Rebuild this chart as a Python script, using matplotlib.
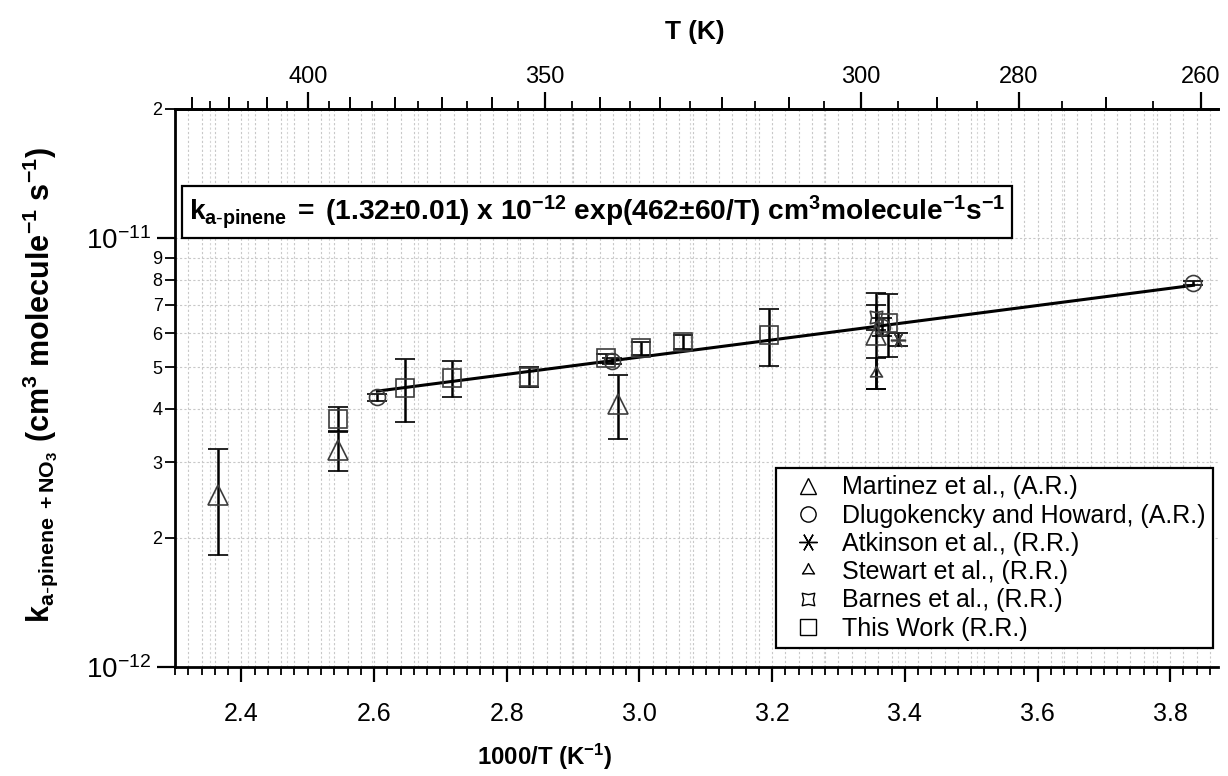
import numpy as np
import matplotlib
matplotlib.use("Agg")
import matplotlib.pyplot as plt
from matplotlib.path import Path
from matplotlib.lines import Line2D
from matplotlib import font_manager

# ---------------- data (k in units of 1e-12 cm3 molecule-1 s-1) ----------------
martinez_x = [2.365, 2.545, 2.967, 3.356]
martinez_k = [2.52, 3.20, 4.10, 5.95]
martinez_err = [0.70, 0.33, 0.70, 1.50]

dlugo_x = [2.605, 2.959, 3.365, 3.835]
dlugo_k = [4.26, 5.17, 6.20, 7.85]
dlugo_err = [0.08, 0.08, 0.30, 0.08]

atkinson_x = [3.390]
atkinson_k = [5.80]
atkinson_err = [0.20]

stewart_x = [3.356]
stewart_k = [4.85]
stewart_err = [0.40]

barnes_x = [3.356]
barnes_k = [6.55]
barnes_err = [0.45]

thiswork_x = [2.546, 2.647, 2.718, 2.833, 2.950, 3.003, 3.066, 3.195, 3.375]
thiswork_k = [3.79, 4.47, 4.72, 4.75, 5.24, 5.54, 5.72, 5.94, 6.34]
thiswork_err = [0.24, 0.75, 0.45, 0.25, 0.12, 0.20, 0.22, 0.90, 1.05]

fit_A = 1.32      # x 1e-12
fit_B = 462.0     # K
fit_x_range = [2.605, 3.835]

legend_labels = ["Martinez et al., (A.R.)", "Dlugokencky and Howard, (A.R.)",
                 "Atkinson et al., (R.R.)", "Stewart et al., (R.R.)",
                 "Barnes et al., (R.R.)", "This Work (R.R.)"]

x_major = [2.4, 2.6, 2.8, 3.0, 3.2, 3.4, 3.6, 3.8]
top_major_T = [400, 350, 300, 280, 260]
y_major = [1e-12, 1e-11]
y_major_labels = [r"$10^{-12}$", r"$10^{-11}$"]
y_minor = [2e-12, 3e-12, 4e-12, 5e-12, 6e-12, 7e-12, 8e-12, 9e-12, 2e-11]
y_minor_labels = ["2", "3", "4", "5", "6", "7", "8", "9", "2"]

# ---------------- fonts ----------------
names = {f.name for f in font_manager.fontManager.ttflist}
base = "Liberation Sans" if "Liberation Sans" in names else "DejaVu Sans"
narrow = "Liberation Sans Narrow" if "Liberation Sans Narrow" in names else base
plt.rcParams["font.family"] = [base, "DejaVu Sans"]
plt.rcParams["mathtext.fontset"] = "custom"
plt.rcParams["mathtext.rm"] = base
plt.rcParams["mathtext.it"] = base + ":italic"
plt.rcParams["mathtext.bf"] = base + ":bold"

fig = plt.figure(figsize=(12.28, 7.76), dpi=100)
ax = fig.add_axes([175/1228, 1-667/776, (1218-175)/1228, (667-109)/776])
ax.set_yscale("log")
ax.set_xlim(2.30, 3.872)
ax.set_ylim(1e-12, 2e-11)

# grid
xmin, xmax = ax.get_xlim()
ax.set_xticks(x_major)
ax.set_xticks(np.arange(2.30, 3.875, 0.02), minor=True)
gstyle = dict(color="#c8c8c8", lw=0.8, ls=(0, (2, 2)), zorder=0)
ax.grid(True, which="both", axis="x", **gstyle)
ax.grid(True, which="both", axis="y", **gstyle)
for T in range(255, 440, 10):
    xv = 1000.0 / T
    if xmin < xv < xmax:
        ax.axvline(xv, color="#d6d6d6", lw=0.8, ls=(0, (2, 2)), zorder=0)

# fit line
xf = np.linspace(fit_x_range[0], fit_x_range[1], 100)
ax.plot(xf, fit_A * 1e-12 * np.exp(fit_B * xf / 1000.0), color="black", lw=2.2, zorder=3)

def star_path(n, inner):
    verts = []
    for i in range(2 * n):
        ang = np.pi / 2 + i * np.pi / n
        r = 1.0 if i % 2 == 0 else inner
        verts.append((r * np.cos(ang), r * np.sin(ang)))
    verts.append(verts[0])
    codes = [Path.MOVETO] + [Path.LINETO] * (2 * n - 1) + [Path.CLOSEPOLY]
    return Path(verts, codes)

def barnes_path():
    verts = []
    for i in range(8):
        ang = np.pi / 4 + i * np.pi / 4
        r = 1.0 if i % 2 == 0 else 0.55
        verts.append((r * np.cos(ang), r * np.sin(ang)))
    verts.append(verts[0])
    codes = [Path.MOVETO] + [Path.LINETO] * 7 + [Path.CLOSEPOLY]
    return Path(verts, codes)

stewart_marker = star_path(3, 0.45)
barnes_marker = barnes_path()

edge = "#3c3c3c"
common = dict(ecolor="black", elinewidth=1.8, capsize=7, capthick=1.8, mfc="none",
              mec=edge, mew=1.2, ls="none", zorder=4)

sc = 1e-12
ax.errorbar(thiswork_x, np.array(thiswork_k) * sc, yerr=np.array(thiswork_err) * sc,
            marker="s", ms=13, **common)
ax.errorbar(martinez_x, np.array(martinez_k) * sc, yerr=np.array(martinez_err) * sc,
            marker="^", ms=15, **common)
ax.errorbar(dlugo_x, np.array(dlugo_k) * sc, yerr=np.array(dlugo_err) * sc,
            marker="o", ms=11.5, **common)
ax.errorbar(atkinson_x, np.array(atkinson_k) * sc, yerr=np.array(atkinson_err) * sc,
            marker=(6, 2, 30), ms=11, **common)
ax.errorbar(stewart_x, np.array(stewart_k) * sc, yerr=np.array(stewart_err) * sc,
            marker=stewart_marker, ms=10, **common)
ax.errorbar(barnes_x, np.array(barnes_k) * sc, yerr=np.array(barnes_err) * sc,
            marker=barnes_marker, ms=9, **common)

# spines & ticks
for s in ["left", "bottom", "top"]:
    ax.spines[s].set_linewidth(2.0)
ax.spines["right"].set_visible(False)

ax.set_xticklabels([f"{v:.1f}" for v in x_major], fontfamily=narrow)
ax.tick_params(axis="x", which="major", direction="out", length=11, width=1.6, pad=14,
               labelsize=18)
ax.tick_params(axis="x", which="minor", direction="out", length=6, width=1.3)
ax.tick_params(axis="x", top=False)

ax.set_yticks(y_major)
ax.set_yticklabels(y_major_labels)
ax.set_yticks(y_minor, minor=True)
ax.set_yticklabels(y_minor_labels, minor=True)
ax.tick_params(axis="y", which="major", direction="out", length=13, width=1.6, pad=4,
               labelsize=20)
ax.tick_params(axis="y", which="minor", direction="out", length=7, width=1.3, pad=2,
               labelsize=13)

# top temperature axis
axt = ax.twiny()
axt.set_xlim(ax.get_xlim())
axt.set_xticks([1000.0 / T for T in top_major_T])
axt.set_xticklabels([str(T) for T in top_major_T], fontfamily=narrow)
med = [1000.0 / T for T in range(260, 440, 10) if T not in top_major_T and xmin < 1000.0 / T < xmax]
axt.set_xticks(med, minor=True)
axt.tick_params(axis="x", which="major", direction="out", length=12, width=1.6, pad=3,
                labelsize=17)
axt.tick_params(axis="x", which="minor", direction="out", length=9, width=1.4)
for s in ["left", "bottom", "right"]:
    axt.spines[s].set_visible(False)
axt.spines["top"].set_linewidth(2.0)

axt2 = ax.twiny()
axt2.set_xlim(ax.get_xlim())
small = [1000.0 / T for T in range(255, 440, 10) if xmin < 1000.0 / T < xmax]
axt2.set_xticks(small)
axt2.set_xticklabels([])
axt2.tick_params(axis="x", which="major", direction="out", length=5.5, width=1.3)
for s in axt2.spines.values():
    s.set_visible(False)

# legend
handles = [
    Line2D([], [], ls="none", marker="^", ms=12, mfc="none", mec="black", mew=1.0),
    Line2D([], [], ls="none", marker="o", ms=11, mfc="none", mec="black", mew=1.0),
    Line2D([], [], ls="none", marker=(6, 2, 30), ms=13, mfc="none", mec="black", mew=1.0),
    Line2D([], [], ls="none", marker=stewart_marker, ms=10, mfc="none", mec="black", mew=1.0),
    Line2D([], [], ls="none", marker=barnes_marker, ms=9, mfc="none", mec="black", mew=1.0),
    Line2D([], [], ls="none", marker="s", ms=12, mfc="none", mec="black", mew=1.0),
]
leg = ax.legend(handles, legend_labels, loc="lower right", bbox_to_anchor=(0.995, 0.034),
                fontsize=18, frameon=True, fancybox=False, framealpha=1, edgecolor="black",
                handlelength=2.0, handletextpad=0.35, labelspacing=0.17, borderpad=0.3,
                borderaxespad=0)
leg.get_frame().set_linewidth(1.6)
leg.set_zorder(10)

# equation box
eq = ax.text(0.013, 0.815,
             r"$\mathbf{k_{a\text{-}pinene}\;=\;(1.32±0.01)\ x\ 10^{-12}\ exp(462±60/T)\ cm^{3}molecule^{-1}s^{-1}}$",
             transform=ax.transAxes, ha="left", va="center", fontsize=18, zorder=11,
             bbox=dict(boxstyle="square,pad=0.25", fc="white", ec="black", lw=1.6))

ylab = fig.text(40 / 1228, 1 - 385 / 776,
                r"$\mathbf{k_{a\text{-}pinene\ +NO_3}\ (cm^{3}\ molecule^{-1}\ s^{-1})}$",
                rotation=90, ha="center", va="center", fontsize=17)
xlab = fig.text(545 / 1228, 1 - 757 / 776, r"$\mathbf{1000/T\ (K^{-1})}$",
                ha="center", va="center", fontsize=15)
tlab = fig.text(695 / 1228, 1 - 32 / 776, "T (K)", ha="center", va="center",
                fontsize=15, fontweight="bold")

def fit_width(t, target, use_height=False):
    fig.canvas.draw()
    bb = t.get_window_extent(fig.canvas.get_renderer())
    cur = bb.height if use_height else bb.width
    t.set_fontsize(t.get_fontsize() * target / cur)

fit_width(eq, 818)
fit_width(ylab, 478, use_height=True)
fit_width(xlab, 136)
fit_width(tlab, 60)

fig.savefig("out.png", dpi=100, facecolor="white")
